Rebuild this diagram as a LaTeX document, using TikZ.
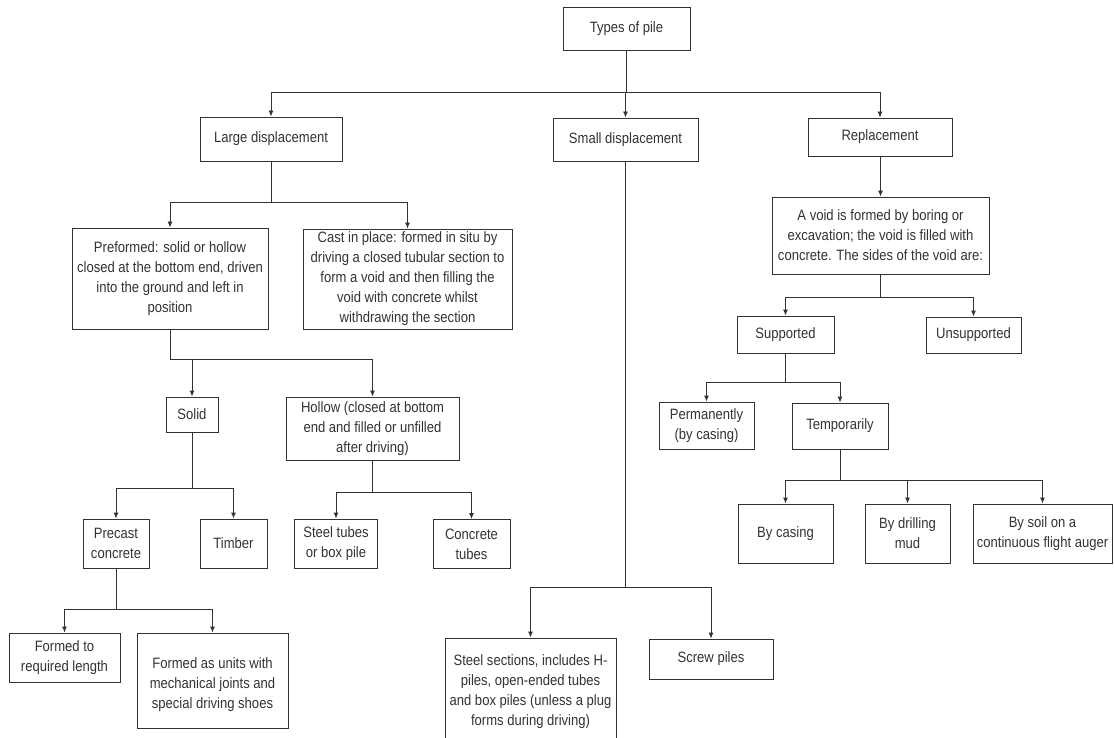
\documentclass[tikz,border=0pt]{standalone}
\usepackage{fontspec}
\setmainfont{Liberation Sans}[FakeStretch=0.87]
\usetikzlibrary{arrows.meta}

\def\ink{black!80}

\begin{document}
\begin{tikzpicture}[x=1pt,y=-1pt,
    box/.style={draw=\ink,line width=0.9pt,text=\ink,align=center,inner sep=0pt,font=\fontsize{15}{20}\selectfont},
    size/.style 2 args={minimum width=#1pt,minimum height=#2pt},
    link/.style={draw=\ink,line width=0.9pt,-{Latex[length=6pt,width=5pt]}}]
    \useasboundingbox[fill=white] (0,0) rectangle (1114,738);

    \node[box,size={127}{43}] (types) at (626.5,28.5) {Types of pile};
    \node[box,size={142}{44}] (large) at (271,139) {Large displacement};
    \node[box,size={145}{43}] (small) at (625.5,139.5) {Small displacement};
    \node[box,size={144}{38}] (repl) at (880,137) {Replacement};

    \node[box,size={196}{101}] (pre) at (170,278.5) {Preformed: solid or hollow\\closed at the bottom end, driven\\into the ground and left in\\position};
    \node[box,size={209}{100}] (cast) at (407.5,279) {Cast in place: formed in situ by\\driving a closed tubular section to\\form a void and then filling the\\void with concrete whilst\\withdrawing the section};
    \node[box,size={217}{77}] (void) at (880.5,235.5) {A void is formed by boring or\\excavation; the void is filled with\\concrete. The sides of the void are:};
    \node[box,size={97}{37}] (sup) at (785.5,334.5) {Supported};
    \node[box,size={95}{36}] (unsup) at (973.5,335) {Unsupported};

    \node[box,size={52}{35}] (solid) at (192,414.5) {Solid};
    \node[box,size={173}{63}] (hollow) at (372.5,428.5) {Hollow (closed at bottom\\end and filled or unfilled\\after driving)};
    \node[box,size={95}{47}] (perm) at (706.5,425.5) {Permanently\\(by casing)};
    \node[box,size={96}{46}] (temp) at (840,426) {Temporarily};

    \node[box,size={66}{49}] (precast) at (116,543.5) {Precast\\concrete};
    \node[box,size={67}{49}] (timber) at (233.5,543.5) {Timber};
    \node[box,size={83}{49}] (steeltubes) at (336,543.5) {Steel tubes\\or box pile};
    \node[box,size={77}{49}] (conctubes) at (471.5,544) {Concrete\\tubes};
    \node[box,size={95}{59}] (bycasing) at (785.5,533.5) {By casing};
    \node[box,size={85}{59}] (bymud) at (907.5,533.5) {By drilling\\mud};
    \node[box,size={139}{59}] (bysoil) at (1042.5,533.5) {By soil on a\\continuous flight auger};

    \node[box,size={111}{49}] (formedto) at (64.5,657.5) {Formed to\\required length};
    \node[box,size={151}{95}] (formedunits) at (212.5,680.5) {\mbox{}\\Formed as units with\\mechanical joints and\\special driving shoes};
    \node[box,size={171}{107}] (steelsec) at (530.5,691.5) {Steel sections, includes H-\\piles, open-ended tubes\\and box piles (unless a plug\\forms during driving)};
    \node[box,size={124}{40}] (screw) at (711,659) {Screw piles};

    \foreach \p/\c/\y in {types/large/92,types/small/92,types/repl/92,
        large/pre/202,large/cast/202,repl/void/177,void/sup/297,void/unsup/297,
        pre/solid/359,pre/hollow/359,sup/perm/382,sup/temp/382,
        solid/precast/488,solid/timber/488,hollow/steeltubes/492,hollow/conctubes/492,
        temp/bycasing/480,temp/bymud/480,temp/bysoil/480,
        precast/formedto/609,precast/formedunits/609,small/steelsec/587,small/screw/587}
        \draw[link] (\p.south) -- (\p.south |- 0,\y) -| (\c.north);
\end{tikzpicture}
\end{document}
